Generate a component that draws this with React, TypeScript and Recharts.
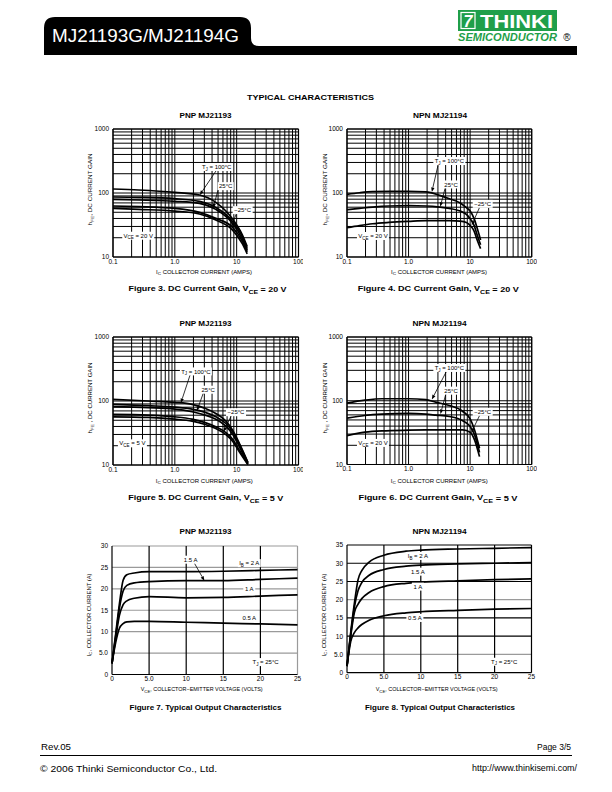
import React from 'react';
import { LineChart, Line, XAxis, YAxis, CartesianGrid, ReferenceLine, ReferenceDot } from 'recharts';

const FONT = '"Liberation Sans", Arial, Helvetica, sans-serif';

// ---------- axis ticks / grid values ----------
const logXTicks = [0.1, 1, 10, 100];
const logYTicks = [10, 100, 1000];
const logXGrid = [0.1, 0.2, 0.3, 0.4, 0.5, 0.6, 0.7, 0.8, 0.9, 1, 2, 3, 4, 5, 6, 7, 8, 9, 10, 20, 30, 40, 50, 60, 70, 80, 90, 100];
const logYGrid = [10, 20, 30, 40, 50, 60, 70, 80, 90, 100, 200, 300, 400, 500, 600, 700, 800, 900, 1000];
const vceTicks = [0, 5, 10, 15, 20, 25];
const fig7ITicks = [0, 5, 10, 15, 20, 25, 30];
const fig8ITicks = [0, 5, 10, 15, 20, 25, 30, 35];

// ---------- Figure 3 : PNP, VCE = 20 V ----------
const fig3Current = [0.1, 0.26, 1, 2.5, 4.6, 8.6, 12.4, 14.8];
const fig3Gain100 = [115.5, 111.4, 102.4, 93, 71.4, 39.1, 22, 14.5];
const fig3Gain25a = [86.6, 85.5, 81.5, 74, 59.6, 36, 20.5, 13.5];
const fig3Gain25b = [79.6, 77.7, 74, 68.9, 55.5, 33.5, 19, 12.7];
const fig3GainM25a = [62.6, 61.1, 57.5, 49.8, 40.1, 29, 17.5, 12];
const fig3GainM25b = [57.5, 55.5, 52.2, 46.9, 37.8, 26.3, 16, 11.2];

// ---------- Figure 4 : NPN, VCE = 20 V ----------
const fig4Current = [0.1, 0.16, 0.26, 0.48, 1, 1.93, 3.2, 4.6, 6.9, 8.7, 10, 11.6, 13.1, 14.8];
const fig4Gain100 = [95.3, 101, 105, 106, 106, 104, 92, 81.5, 69.7, 58.9, 52.2, 39.7, 27.6, 18.5];
const fig4Gain25 = [54.8, 57.5, 60.3, 62.6, 63.3, 62.6, 60.3, 57.5, 52.2, 46.3, 39.7, 31.2, 21.7, 15.5];
const fig4GainM25 = [28.7, 31, 33.1, 34.7, 36, 36.9, 36.9, 36.9, 36.4, 34.7, 31.2, 25.4, 18.1, 13.5];

// ---------- Figure 5 : PNP, VCE = 5 V ----------
const fig5Current = [0.1, 0.37, 1, 1.9, 3.1, 4.6, 6.7, 8.6, 11.1, 15.2];
const fig5Gain100 = [106, 100, 95.3, 88.6, 76.6, 64, 48.4, 34.9, 21.6, 11];
const fig5Gain25a = [88.6, 84.4, 80.4, 74.8, 66.3, 56.6, 44.5, 32.9, 20.8, 10.8];
const fig5Gain25b = [81.4, 78.5, 74.8, 67.9, 60.2, 52, 40.4, 30.2, 19.1, 10.5];
const fig5GainM25a = [61.6, 60.2, 56.6, 52, 46, 39.4, 32.1, 25.2, 16.9, 10.3];
const fig5GainM25b = [56.6, 55.3, 52, 48.4, 42.9, 37.1, 29.9, 23.5, 15.9, 10.1];

// ---------- Figure 6 : NPN, VCE = 5 V ----------
const fig6Current = [0.1, 0.195, 0.37, 1, 1.9, 2.76, 4.6, 7.6, 10, 11.8, 14.2];
const fig6Gain100 = [91.9, 102, 107.5, 107.5, 104, 95, 84.4, 67.9, 52, 34.9, 18];
const fig6Gain25 = [53.3, 58.7, 61.6, 63.2, 61.6, 59.5, 56.6, 48.4, 39.4, 29.2, 15.5];
const fig6GainM25 = [28.4, 32.1, 33.7, 34.5, 34.8, 35, 35, 35, 32.1, 24.3, 13.3];

// ---------- Figure 7 : PNP output ----------
const fig7Voltage = [0, 0.5, 1, 1.5, 2, 3, 5, 10, 15, 20, 25];
const fig7Ib2 = [2.6, 9.5, 16.5, 22, 23.3, 23.7, 24, 24, 24.1, 24.3, 24.5];
const fig7Ib15 = [2.6, 9, 15.5, 19.5, 20.8, 21.4, 21.7, 21.9, 21.9, 22.2, 22.5];
const fig7Ib1 = [2.6, 8.5, 13.8, 16.3, 17.2, 17.8, 18.2, 17.9, 18, 18.3, 18.6];
const fig7Ib05 = [2.6, 7.5, 10.8, 11.9, 12.3, 12.4, 12.4, 12.2, 12, 11.8, 11.6];

// ---------- Figure 8 : NPN output ----------
const fig8Voltage = [0, 0.5, 1, 1.5, 2, 3, 5, 8, 10, 15, 20, 25];
const fig8Ib2 = [1.8, 11, 19, 25.5, 28, 30.3, 32.2, 33.3, 33.6, 33.9, 34.1, 34.3];
const fig8Ib15 = [1.8, 10.5, 18, 22.5, 24.7, 26.7, 28.3, 29.2, 29.5, 29.8, 30, 30.2];
const fig8Ib1 = [1.8, 10, 16.5, 18.8, 20.3, 22, 23.6, 24.5, 24.8, 25.2, 25.5, 25.7];
const fig8Ib05 = [1.8, 8.5, 11, 12.3, 13.2, 14.4, 15.6, 16.4, 16.7, 17.1, 17.4, 17.6];

// ---------- annotations (data coordinates) ----------
type Lbl = { x: number; y: number; pre: string; sub?: string; post?: string; w: number };
type Arr = { x1: number; y1: number; x2: number; y2: number };

const fig3Labels: Lbl[] = [
  { x: 4.75, y: 255, pre: 'T', sub: 'J', post: ' = 100°C', w: 32 },
  { x: 6.65, y: 128, pre: '25°C', w: 16 },
  { x: 12.5, y: 54, pre: '−25°C', w: 20 },
  { x: 0.256, y: 21.5, pre: 'V', sub: 'CE', post: ' = 20 V', w: 32 },
];
const fig3Arrows: Arr[] = [
  { x1: 4.7, y1: 226, x2: 2.53, y2: 93 },
  { x1: 5.0, y1: 111, x2: 4.15, y2: 58 },
  { x1: 9.9, y1: 48, x2: 8.2, y2: 29 },
];
const fig4Labels: Lbl[] = [
  { x: 4.6, y: 316, pre: 'T', sub: 'J', post: ' = 100°C', w: 32 },
  { x: 4.9, y: 136, pre: '25°C', w: 16 },
  { x: 16, y: 67.7, pre: '−25°C', w: 20 },
  { x: 0.264, y: 21.3, pre: 'V', sub: 'CE', post: ' = 20 V', w: 32 },
];
const fig4Arrows: Arr[] = [
  { x1: 3.0, y1: 267, x2: 2.39, y2: 104 },
  { x1: 3.98, y1: 125, x2: 3.27, y2: 61 },
  { x1: 14.5, y1: 62, x2: 10.6, y2: 31.3 },
];
const fig5Labels: Lbl[] = [
  { x: 2.19, y: 290, pre: 'T', sub: 'J', post: ' = 100°C', w: 32 },
  { x: 3.47, y: 150, pre: '25°C', w: 16 },
  { x: 9.76, y: 66.8, pre: '−25°C', w: 20 },
  { x: 0.206, y: 21.8, pre: 'V', sub: 'CE', post: ' = 5 V', w: 29 },
];
const fig5Arrows: Arr[] = [
  { x1: 1.77, y1: 257, x2: 1.25, y2: 93 },
  { x1: 2.92, y1: 137, x2: 2.27, y2: 70 },
  { x1: 8.3, y1: 60.7, x2: 6.15, y2: 33 },
];
const fig6Labels: Lbl[] = [
  { x: 4.6, y: 327, pre: 'T', sub: 'J', post: ' = 100°C', w: 32 },
  { x: 4.9, y: 144, pre: '25°C', w: 16 },
  { x: 16, y: 67, pre: '−25°C', w: 20 },
  { x: 0.264, y: 21.8, pre: 'V', sub: 'CE', post: ' = 20 V', w: 32 },
];
const fig6Arrows: Arr[] = [
  { x1: 4.08, y1: 283, x2: 2.39, y2: 105 },
  { x1: 4.08, y1: 133, x2: 3.3, y2: 62 },
  { x1: 14.5, y1: 60.7, x2: 10.4, y2: 31.3 },
];
const fig7Labels: Lbl[] = [
  { x: 10.6, y: 26.8, pre: '1.5 A', w: 17 },
  { x: 18.5, y: 26, pre: 'I', sub: 'B', post: ' = 2 A', w: 23 },
  { x: 18.5, y: 20, pre: '1 A', w: 12 },
  { x: 18.5, y: 13.25, pre: '0.5 A', w: 17 },
  { x: 20.7, y: 2.9, pre: 'T', sub: 'J', post: ' = 25°C', w: 29 },
];
const fig7Arrows: Arr[] = [{ x1: 11.1, y1: 26, x2: 12.45, y2: 21.9 }];
const fig8Labels: Lbl[] = [
  { x: 9.6, y: 32, pre: 'I', sub: 'B', post: ' = 2 A', w: 23 },
  { x: 9.6, y: 27.7, pre: '1.5 A', w: 17 },
  { x: 9.6, y: 23.6, pre: '1 A', w: 12 },
  { x: 9.2, y: 15, pre: '0.5 A', w: 17 },
  { x: 21.3, y: 3, pre: 'T', sub: 'J', post: ' = 25°C', w: 29 },
];

// ---------- helpers ----------
function rowsOf(xs: number[], series: number[][]) {
  return xs.map((x, i) => {
    const r: any = { x };
    series.forEach((s, j) => (r['s' + j] = s[i]));
    return r;
  });
}

const TICK = { fontSize: 6.5, fill: '#000', fontFamily: FONT };
const fmtLogX = (v: number) => (v === 1 ? '1.0' : String(v));
const fmtLin = (v: number) => (v === 5 ? '5.0' : String(v));

function labelShape(l: Lbl) {
  return (p: any) => {
    const cx = p.cx;
    const cy = p.cy;
    return (
      <g>
        <rect x={cx - l.w / 2} y={cy - 4} width={l.w} height={8} fill="#fff" />
        <text x={cx} y={cy} dy="0.35em" textAnchor="middle" fontSize={6} fontFamily={FONT} fill="#000">
          {l.pre}
          {l.sub ? <tspan fontSize={4.5} dy={1.6}>{l.sub}</tspan> : null}
          {l.post ? <tspan dy={l.sub ? -1.6 : 0}>{l.post}</tspan> : null}
        </text>
      </g>
    );
  };
}

const arrowShape = (p: any) => {
  const { x1, y1, x2, y2 } = p;
  if ([x1, y1, x2, y2].some((v) => typeof v !== 'number' || isNaN(v))) return <g />;
  const ang = Math.atan2(y2 - y1, x2 - x1);
  const L = 4.5;
  const W = 1.7;
  const bx = x2 - L * Math.cos(ang);
  const by = y2 - L * Math.sin(ang);
  const pts = `${x2},${y2} ${bx + W * Math.sin(ang)},${by - W * Math.cos(ang)} ${bx - W * Math.sin(ang)},${by + W * Math.cos(ang)}`;
  return (
    <g>
      <line x1={x1} y1={y1} x2={bx} y2={by} stroke="#000" strokeWidth={0.8} />
      <polygon points={pts} fill="#000" />
    </g>
  );
};

const YW = 30;
const XH = 20;
const M = 5;

function LogChart(p: { left: number; top: number; w: number; h: number; rows: any[]; n: number; labels: Lbl[]; arrows: Arr[] }) {
  const keys = Array.from({ length: p.n }, (_, i) => 's' + i);
  return (
    <div style={{ position: 'absolute', left: p.left - YW, top: p.top - M }}>
      <LineChart width={YW + p.w + M} height={M + p.h + XH} data={p.rows} margin={{ top: M, right: M, bottom: 0, left: 0 }}>
        <CartesianGrid horizontalValues={logYGrid} verticalValues={logXGrid} stroke="#000" strokeWidth={1} />
        <XAxis dataKey="x" type="number" scale="log" domain={[0.1, 100]} ticks={logXTicks} allowDataOverflow interval={0}
          tickFormatter={fmtLogX} axisLine={false} tickLine={false} tick={TICK} tickSize={1} tickMargin={1} height={XH} />
        <YAxis type="number" scale="log" domain={[10, 1000]} ticks={logYTicks} allowDataOverflow interval={0}
          axisLine={false} tickLine={false} tick={TICK} tickSize={2} tickMargin={2} width={YW} />
        <ReferenceLine x={0.1} stroke="#000" strokeWidth={1.2} />
        <ReferenceLine x={100} stroke="#000" strokeWidth={1.2} />
        <ReferenceLine y={10} stroke="#000" strokeWidth={1.2} />
        <ReferenceLine y={1000} stroke="#000" strokeWidth={1.2} />
        {keys.map((k) => (
          <Line key={k} dataKey={k} type="monotone" stroke="#000" strokeWidth={1.7} dot={false} activeDot={false} isAnimationActive={false} />
        ))}
        {p.arrows.map((a, i) => (
          <ReferenceLine key={'a' + i} segment={[{ x: a.x1, y: a.y1 }, { x: a.x2, y: a.y2 }]} shape={arrowShape} ifOverflow="visible" />
        ))}
        {p.labels.map((l, i) => (
          <ReferenceDot key={'l' + i} x={l.x} y={l.y} r={1} shape={labelShape(l)} ifOverflow="visible" />
        ))}
      </LineChart>
    </div>
  );
}

type GL = { v: number; c: string };

function LinChart(p: { left: number; top: number; w: number; h: number; rows: any[]; n: number; yMax: number; yTicks: number[];
  vLines: GL[]; hLines: GL[]; labels: Lbl[]; arrows: Arr[] }) {
  const keys = Array.from({ length: p.n }, (_, i) => 's' + i);
  return (
    <div style={{ position: 'absolute', left: p.left - YW, top: p.top - M }}>
      <LineChart width={YW + p.w + M} height={M + p.h + XH} data={p.rows} margin={{ top: M, right: M, bottom: 0, left: 0 }}>
        {p.hLines.map((g, i) => (
          <ReferenceLine key={'h' + i} y={g.v} stroke={g.c} strokeWidth={1.2} />
        ))}
        {p.vLines.map((g, i) => (
          <ReferenceLine key={'v' + i} x={g.v} stroke={g.c} strokeWidth={1.2} />
        ))}
        <XAxis dataKey="x" type="number" domain={[0, 25]} ticks={vceTicks} interval={0} tickFormatter={fmtLin}
          axisLine={{ stroke: '#000', strokeWidth: 1.2 }} tickLine={false} tick={TICK} tickSize={1} tickMargin={1} height={XH} />
        <YAxis type="number" domain={[0, p.yMax]} ticks={p.yTicks} interval={0} tickFormatter={fmtLin}
          axisLine={{ stroke: '#000', strokeWidth: 1.2 }} tickLine={false} tick={TICK} tickSize={2} tickMargin={2} width={YW} />
        {keys.map((k) => (
          <Line key={k} dataKey={k} type="monotone" stroke="#000" strokeWidth={1.7} dot={false} activeDot={false} isAnimationActive={false} />
        ))}
        {p.arrows.map((a, i) => (
          <ReferenceLine key={'a' + i} segment={[{ x: a.x1, y: a.y1 }, { x: a.x2, y: a.y2 }]} shape={arrowShape} ifOverflow="visible" />
        ))}
        {p.labels.map((l, i) => (
          <ReferenceDot key={'l' + i} x={l.x} y={l.y} r={1} shape={labelShape(l)} ifOverflow="visible" />
        ))}
      </LineChart>
    </div>
  );
}

// ---------- page text helpers ----------
function T(p: { x: number; y: number; size: number; w?: number; bold?: boolean; anchor?: 'start' | 'middle' | 'end'; rot?: boolean;
  fill?: string; italic?: boolean; children: React.ReactNode }) {
  return (
    <text x={p.x} y={p.y} fontSize={p.size} fontFamily={FONT} fontWeight={p.bold ? 'bold' : 'normal'} fontStyle={p.italic ? 'italic' : 'normal'}
      textAnchor={p.anchor || 'middle'} dominantBaseline="central" fill={p.fill || '#000'}
      textLength={p.w} lengthAdjust={p.w ? 'spacingAndGlyphs' : undefined}
      transform={p.rot ? `rotate(-90 ${p.x} ${p.y})` : undefined}>
      {p.children}
    </text>
  );
}

function Sub({ s, size, text }: { s: string; size: number; text: string }) {
  return (
    <>
      <tspan fontSize={size * 0.78} dy={size * 0.3}>{s}</tspan>
      <tspan dy={-size * 0.3}>{text}</tspan>
    </>
  );
}

export default function App() {
  const f3 = rowsOf(fig3Current, [fig3Gain100, fig3Gain25a, fig3Gain25b, fig3GainM25a, fig3GainM25b]);
  const f4 = rowsOf(fig4Current, [fig4Gain100, fig4Gain25, fig4GainM25]);
  const f5 = rowsOf(fig5Current, [fig5Gain100, fig5Gain25a, fig5Gain25b, fig5GainM25a, fig5GainM25b]);
  const f6 = rowsOf(fig6Current, [fig6Gain100, fig6Gain25, fig6GainM25]);
  const f7 = rowsOf(fig7Voltage, [fig7Ib2, fig7Ib15, fig7Ib1, fig7Ib05]);
  const f8 = rowsOf(fig8Voltage, [fig8Ib2, fig8Ib15, fig8Ib1, fig8Ib05]);

  const gray = '#9a9a9a';
  const fig7V: GL[] = [5, 10, 15, 20].map((v) => ({ v, c: '#000' })).concat([{ v: 25, c: gray }]);
  const fig7H: GL[] = [5, 10, 15, 20, 25, 30].map((v) => ({ v, c: gray }));
  const fig8V: GL[] = [5, 10, 15, 20, 25].map((v) => ({ v, c: '#000' }));
  const fig8H: GL[] = [
    { v: 5, c: gray }, { v: 10, c: '#000' }, { v: 15, c: '#000' }, { v: 20, c: gray },
    { v: 25, c: '#000' }, { v: 30, c: '#000' }, { v: 35, c: '#000' },
  ];

  const green = '#1f9f4a';

  return (
    <div style={{ position: 'absolute', left: 0, top: 0, width: 612, height: 792, background: '#fff', overflow: 'hidden' }}>
      <svg width={612} height={792} style={{ position: 'absolute', left: 0, top: 0 }}>
        {/* header */}
        <path d="M44,55 L44,28 Q44,17 55,17 L240,17 Q251,17 251,28 L251,38 Q251,46 259,46 L577,46 L577,55 Z" fill="#000" />
        <T x={52} y={35} size={19} w={187} anchor="start" fill="#fff">MJ21193G/MJ21194G</T>
        <rect x={458} y={10} width={99} height={21} fill={green} />
        <rect x={461} y={12.5} width={14} height={16} fill="none" stroke="#fff" strokeWidth={1.2} />
        <T x={468} y={21} size={16} bold italic fill="#fff">7</T>
        <T x={480} y={21} size={19} w={73} bold anchor="start" fill="#fff">THINKI</T>
        <T x={458} y={37.5} size={10} w={99} bold italic anchor="start" fill={green}>SEMICONDUCTOR</T>
        <T x={567} y={37.5} size={10} fill="#000">®</T>

        <T x={310.5} y={97} size={8} w={127} bold>TYPICAL CHARACTERISTICS</T>

        {/* chart titles */}
        <T x={205.5} y={115} size={7.5} w={52} bold>PNP MJ21193</T>
        <T x={440} y={115} size={7.5} w={54} bold>NPN  MJ21194</T>
        <T x={205.5} y={323.3} size={7.5} w={52} bold>PNP MJ21193</T>
        <T x={439.5} y={323.3} size={7.5} w={54} bold>NPN  MJ21194</T>
        <T x={205.5} y={531} size={7.5} w={52} bold>PNP MJ21193</T>
        <T x={439.5} y={531} size={7.5} w={54} bold>NPN  MJ21194</T>

        {/* y-axis titles */}
        <T x={90} y={189.5} size={5.5} w={72} rot>h<Sub s="FE" size={5.5} text=", DC CURRENT GAIN" /></T>
        <T x={325} y={189.5} size={5.5} w={72} rot>h<Sub s="FE" size={5.5} text=", DC CURRENT GAIN" /></T>
        <T x={90} y={398} size={5.5} w={71} rot>h<Sub s="FE" size={5.5} text=" , DC CURRENT GAIN" /></T>
        <T x={325} y={398} size={5.5} w={71} rot>h<Sub s="FE" size={5.5} text=" , DC CURRENT GAIN" /></T>
        <T x={88.5} y={615} size={5.5} w={83} rot>I<Sub s="C" size={5.5} text=", COLLECTOR CURRENT (A)" /></T>
        <T x={323.5} y={615} size={5.5} w={83} rot>I<Sub s="C" size={5.5} text=", COLLECTOR CURRENT (A)" /></T>

        {/* x-axis titles */}
        <T x={204} y={271.5} size={5.5} w={96}>I<Sub s="C" size={5.5} text=" COLLECTOR CURRENT (AMPS)" /></T>
        <T x={439} y={271.5} size={5.5} w={96}>I<Sub s="C" size={5.5} text=" COLLECTOR CURRENT (AMPS)" /></T>
        <T x={204.3} y={480.5} size={5.5} w={97}>I<Sub s="C" size={5.5} text=" COLLECTOR CURRENT (AMPS)" /></T>
        <T x={439.3} y={480.5} size={5.5} w={97}>I<Sub s="C" size={5.5} text=" COLLECTOR CURRENT (AMPS)" /></T>
        <T x={201.7} y={689.3} size={5.5} w={122}>V<Sub s="CE" size={5.5} text=", COLLECTOR−EMITTER VOLTAGE (VOLTS)" /></T>
        <T x={436.7} y={689.3} size={5.5} w={122}>V<Sub s="CE" size={5.5} text=", COLLECTOR−EMITTER VOLTAGE (VOLTS)" /></T>

        {/* captions */}
        <T x={207.5} y={288.5} size={8} w={158} bold>Figure 3. DC Current Gain, V<Sub s="CE" size={8} text=" = 20 V" /></T>
        <T x={438.3} y={288.5} size={8} w={161} bold>Figure 4. DC Current Gain, V<Sub s="CE" size={8} text=" = 20 V" /></T>
        <T x={205.8} y={497.5} size={8} w={155} bold>Figure 5. DC Current Gain, V<Sub s="CE" size={8} text=" = 5 V" /></T>
        <T x={438} y={497.5} size={8} w={159} bold>Figure 6. DC Current Gain, V<Sub s="CE" size={8} text=" = 5 V" /></T>
        <T x={205.5} y={707} size={8} w={152} bold>Figure 7. Typical Output Characteristics</T>
        <T x={440} y={707} size={8} w={150} bold>Figure 8. Typical Output Characteristics</T>

        {/* footer */}
        <T x={41} y={746.5} size={9.5} w={30} anchor="start">Rev.05</T>
        <T x={571} y={746.5} size={9.5} w={34} anchor="end">Page 3/5</T>
        <T x={40} y={768.5} size={9.5} w={177} anchor="start">© 2006 Thinki Semiconductor Co., Ltd.</T>
        <T x={577} y={767.5} size={9.5} w={105} anchor="end">http://www.thinkisemi.com/</T>
      </svg>
      <div style={{ position: 'absolute', left: 40, top: 755, width: 532, height: 0, borderTop: '1.5px solid #000', zIndex: 10 }} />

      <LogChart left={112.5} top={129} w={185.5} h={128} rows={f3} n={5} labels={fig3Labels} arrows={fig3Arrows} />
      <LogChart left={347.3} top={129} w={184.7} h={128} rows={f4} n={3} labels={fig4Labels} arrows={fig4Arrows} />
      <LogChart left={112.5} top={337} w={185.5} h={128} rows={f5} n={5} labels={fig5Labels} arrows={fig5Arrows} />
      <LogChart left={347.3} top={337} w={184.7} h={127.5} rows={f6} n={3} labels={fig6Labels} arrows={fig6Arrows} />
      <LinChart left={112.3} top={545.5} w={185.5} h={128.5} rows={f7} n={4} yMax={30} yTicks={fig7ITicks}
        vLines={fig7V} hLines={fig7H} labels={fig7Labels} arrows={fig7Arrows} />
      <LinChart left={347.3} top={545} w={184.5} h={127.7} rows={f8} n={4} yMax={35} yTicks={fig8ITicks}
        vLines={fig8V} hLines={fig8H} labels={fig8Labels} arrows={[]} />
    </div>
  );
}
